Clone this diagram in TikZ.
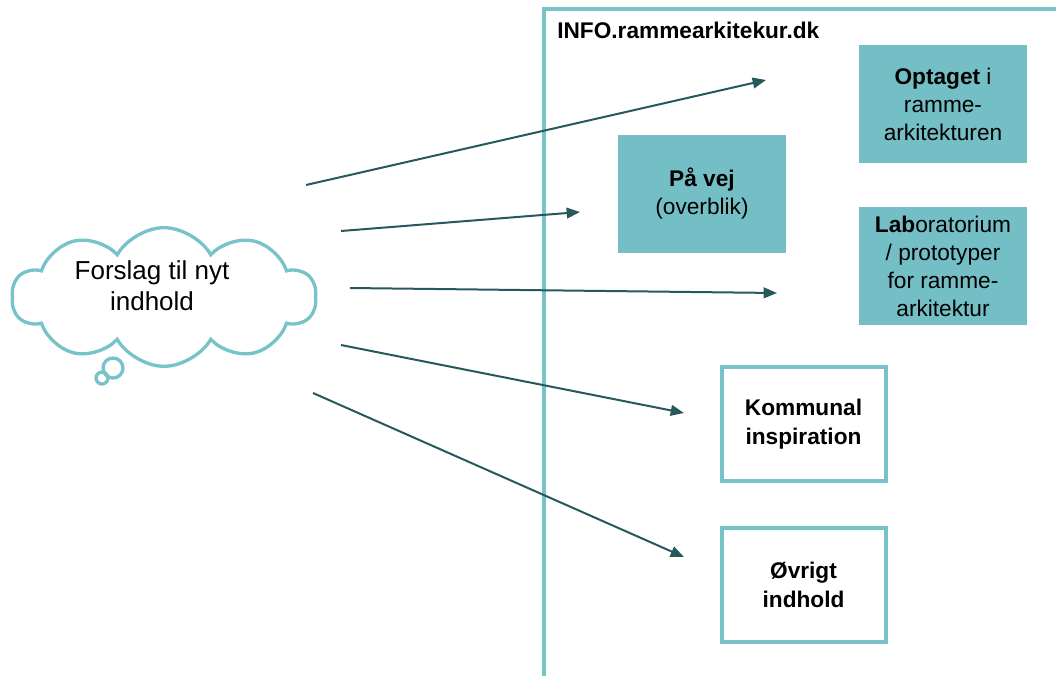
\documentclass[tikz,border=0pt]{standalone}
\usepackage{fontspec}
\setmainfont{Liberation Sans}
\usetikzlibrary{arrows.meta,shapes.symbols}
\definecolor{tealfill}{RGB}{116,191,197}
\definecolor{tealline}{RGB}{120,195,201}
\definecolor{arrowc}{RGB}{38,88,92}
\tikzset{
  x=0.75pt, y=-0.75pt,
  fillbox/.style={fill=tealfill, draw=none, minimum width=126pt, minimum height=88.5pt, align=center, font=\fontsize{17}{21}\selectfont, inner sep=2pt},
  openbox/.style={fill=white, draw=tealline, line width=3pt, minimum width=123pt, minimum height=85.5pt, align=center, font=\fontsize{17}{21.5}\selectfont\bfseries},
  conn/.style={draw=arrowc, line width=1.5pt, -{Triangle[length=10pt,width=8pt]}},
  frame/.style={draw=tealline, line width=3pt}
}
\begin{document}
\begin{tikzpicture}
\useasboundingbox (0,0) rectangle (1056,675);
% frame
\coordinate (fb) at (544,677);
\coordinate (ft) at (544,9);
\coordinate (fr) at (1058,9);
\draw[frame] (fb) -- (ft) -- (fr);
\node[anchor=west, font=\fontsize{17}{20}\selectfont\bfseries, inner sep=0pt] (title) at (557,30) {INFO.rammearkitekur.dk};
% boxes
\node[fillbox] (opt) at (943,104) {\textbf{Optaget} i\\ramme-\\arkitekturen};
\node[fillbox] (paa) at (702,194) {\textbf{På vej}\\(overblik)};
\node[fillbox] (lab) at (943,266) {\textbf{Lab}oratorium\\/ prototyper\\for ramme-\\arkitektur};
\node[openbox] (kom) at (803.5,424) {Kommunal\\inspiration};
\node[openbox] (ovr) at (803.5,585) {Øvrigt\\indhold};
% cloud
\node[cloud, cloud puffs=10, cloud puff arc=120, aspect=2.3, draw=tealline, line width=2.5pt, minimum width=228pt, minimum height=104pt] (cl) at (164,297) {};
\node[align=center, font=\fontsize{19.5}{23}\selectfont] (cltext) at (152,286) {Forslag til nyt\\indhold};
\node[circle, draw=tealline, line width=2.5pt, minimum size=15pt, inner sep=0pt] (b1) at (113,368) {};
\node[circle, draw=tealline, line width=2.5pt, minimum size=9pt, inner sep=0pt] (b2) at (102,378) {};
% arrows
\coordinate (s1) at (306,185); \coordinate (e1) at (766,80);
\coordinate (s2) at (341,231); \coordinate (e2) at (580,212);
\coordinate (s3) at (350,288); \coordinate (e3) at (777,293);
\coordinate (s4) at (341,345); \coordinate (e4) at (684,413);
\coordinate (s5) at (313,393); \coordinate (e5) at (684,557);
\draw[conn] (s1) -- (e1);
\draw[conn] (s2) -- (e2);
\draw[conn] (s3) -- (e3);
\draw[conn] (s4) -- (e4);
\draw[conn] (s5) -- (e5);
\end{tikzpicture}
\end{document}
